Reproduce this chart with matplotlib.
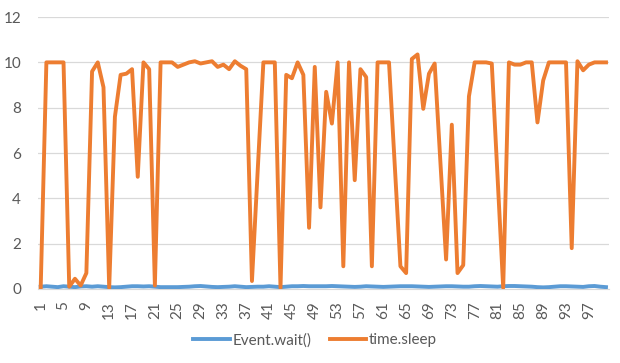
import matplotlib
matplotlib.use('agg')
import matplotlib.pyplot as plt
import numpy as np

# run index 1..100
runs = np.arange(1, 101)

# time.sleep timings
sleep_vals = [
    0.0, 10, 10, 10, 10, 0.1, 0.45, 0.15, 0.7, 9.6,
    10, 8.9, 0.05, 7.6, 9.45, 9.5, 9.7, 4.95, 10, 9.7,
    0.15, 10, 10, 10, 9.8, 9.9, 10, 10.05, 9.95, 10,
    10.05, 9.8, 9.9, 9.7, 10.05, 9.85, 9.7, 0.35, 5.2, 10,
    10, 10, 0.05, 9.45, 9.3, 10, 9.45, 2.7, 9.8, 3.6,
    8.7, 7.3, 10, 1.0, 10, 4.8, 9.7, 9.35, 1.0, 10,
    10, 10, 5.5, 1.0, 0.7, 10.15, 10.35, 7.95, 9.5, 9.95,
    5.6, 1.3, 7.25, 0.7, 1.05, 8.5, 10, 10, 10, 9.95,
    5.0, 0.05, 10, 9.9, 9.9, 10, 10, 7.35, 9.2, 10,
    10, 10, 10, 1.8, 10.05, 9.65, 9.9, 10, 10, 10,
]

# Event.wait() timings
wait_vals = [
    0.1, 0.12, 0.1, 0.08, 0.12, 0.1, 0.08, 0.11, 0.12, 0.1,
    0.12, 0.1, 0.08, 0.07, 0.08, 0.1, 0.12, 0.12, 0.11, 0.12,
    0.1, 0.08, 0.08, 0.08, 0.08, 0.09, 0.1, 0.12, 0.13, 0.11,
    0.09, 0.08, 0.09, 0.1, 0.12, 0.1, 0.08, 0.09, 0.1, 0.1,
    0.12, 0.1, 0.08, 0.1, 0.12, 0.12, 0.13, 0.12, 0.12, 0.12,
    0.12, 0.13, 0.12, 0.11, 0.1, 0.09, 0.1, 0.12, 0.11, 0.1,
    0.09, 0.1, 0.11, 0.12, 0.12, 0.12, 0.11, 0.1, 0.09, 0.1,
    0.11, 0.12, 0.12, 0.11, 0.1, 0.1, 0.12, 0.13, 0.12, 0.11,
    0.1, 0.12, 0.13, 0.13, 0.12, 0.11, 0.1, 0.08, 0.07, 0.08,
    0.1, 0.12, 0.12, 0.11, 0.1, 0.09, 0.12, 0.13, 0.1, 0.08,
]

tick_runs = list(range(1, 101, 4))
y_ticks = [0, 2, 4, 6, 8, 10, 12]

plt.rcParams['font.family'] = ['Lato', 'DejaVu Sans']
text_color = '#595959'

fig = plt.figure(figsize=(6.2, 3.63), dpi=100)
ax = fig.add_axes([0.061, 0.204, 0.921, 0.749])

ax.plot(runs, wait_vals, color='#5B9BD5', lw=2.8, label='Event.wait()',
        solid_joinstyle='round', zorder=3)
ax.plot(runs, sleep_vals, color='#ED7D31', lw=2.8, label='time.sleep',
        solid_joinstyle='round', zorder=3)

ax.set_xlim(0.5, 100.5)
ax.set_ylim(0, 12)
ax.set_yticks(y_ticks)
ax.set_xticks(tick_runs)
ax.set_xticklabels([str(t) for t in tick_runs], rotation=90)
ax.tick_params(axis='both', length=0, labelsize=11, colors=text_color)
ax.tick_params(axis='x', pad=9)
ax.tick_params(axis='y', pad=12)

ax.grid(axis='y', color='#D9D9D9', lw=0.9)
ax.set_axisbelow(True)
for side in ['top', 'right', 'left']:
    ax.spines[side].set_visible(False)
ax.spines['bottom'].set_color('#D9D9D9')

fig.legend(loc='center', bbox_to_anchor=(0.508, 0.063), ncol=2, frameon=False,
           fontsize=11, labelcolor=text_color, handlelength=2.4,
           handletextpad=0.15, columnspacing=1.2)

plt.savefig('out.png', dpi=100)
plt.close()
